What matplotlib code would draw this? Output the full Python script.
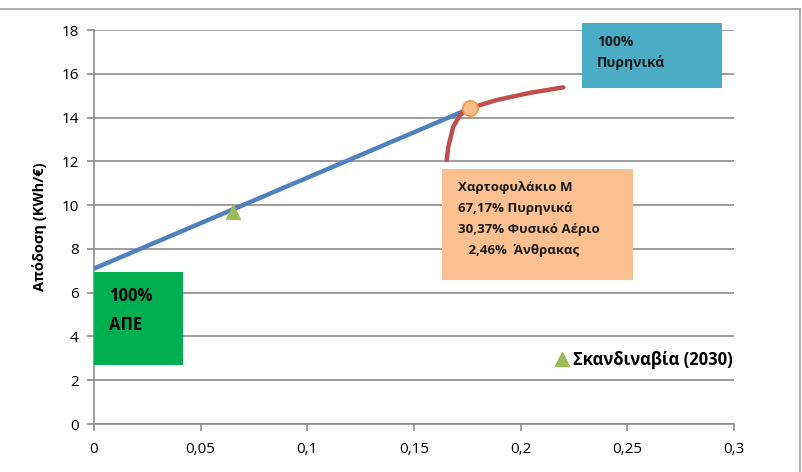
import matplotlib
matplotlib.use("Agg")
import matplotlib.pyplot as plt
from matplotlib.patches import Rectangle
from matplotlib.lines import Line2D
from matplotlib.ticker import FuncFormatter

plt.rcParams['font.family'] = ['Open Sans', 'Noto Sans', 'DejaVu Sans']

# Efficient frontier: straight segment from the 100% renewables point to portfolio M
line_x = [0.0, 0.1763]
line_y = [7.1, 14.42]

# Curved frontier through portfolio M
curve_x = [0.1653, 0.1661, 0.1684, 0.1716, 0.1763, 0.1809, 0.1888, 0.2044, 0.2200]
curve_y = [12.06, 12.67, 13.58, 14.12, 14.42, 14.57, 14.80, 15.13, 15.38]

# Portfolio M
m_x, m_y = 0.1763, 14.42

# Scandinavia (2030)
scand_x, scand_y = 0.065, 9.68

x_ticks = [0, 0.05, 0.1, 0.15, 0.2, 0.25, 0.3]
y_ticks = [0, 2, 4, 6, 8, 10, 12, 14, 16, 18]

W, H = 803, 472
fig = plt.figure(figsize=(W / 100, H / 100), dpi=100)
ax = fig.add_axes([94 / W, 1 - 424 / H, 640 / W, 394 / H])

grid_c = '#8c8c8c'
ax.set_xlim(0, 0.3)
ax.set_ylim(0, 18)
ax.set_yticks(y_ticks)
ax.set_xticks(x_ticks)
ax.yaxis.grid(True, color=grid_c, linewidth=1.2)
ax.set_axisbelow(True)
for s in ['top', 'right']:
    ax.spines[s].set_visible(False)
for s in ['left', 'bottom']:
    ax.spines[s].set_color(grid_c)
    ax.spines[s].set_linewidth(1.2)
ax.tick_params(axis='both', direction='out', length=5, width=1.2, color=grid_c,
               labelsize=11, labelcolor='#000000')
ax.tick_params(axis='x', pad=8)
ax.tick_params(axis='y', pad=6)


def comma_fmt(v, _pos):
    return ('%g' % v).replace('.', ',')


ax.xaxis.set_major_formatter(FuncFormatter(comma_fmt))
ax.yaxis.set_major_formatter(FuncFormatter(comma_fmt))

ax.set_ylabel('Απόδοση (KWh/€)', fontsize=10.5, fontweight='bold', labelpad=10)

# Boxes with annotations
ax.add_patch(Rectangle((0.0, 2.7), 0.0417, 4.24, facecolor='#00b050', edgecolor='none',
                       zorder=3, clip_on=False))
ax.text(0.0072, 6.25, '100%\nΑΠΕ', fontsize=12, fontweight='bold', va='top', ha='left',
        linespacing=1.75, zorder=4)

ax.add_patch(Rectangle((0.2288, 15.35), 0.0656, 2.97, facecolor='#4bacc6', edgecolor='none',
                       zorder=3, clip_on=False))
ax.text(0.2358, 17.75, '100%\nΠυρηνικά', fontsize=10, fontweight='bold', va='top', ha='left',
        linespacing=1.5, zorder=4, color='#1a1a1a', clip_on=False)

ax.add_patch(Rectangle((0.1631, 6.6), 0.0895, 5.07, facecolor='#fac090', edgecolor='none',
                       zorder=3))
ax.text(0.1706, 11.08, 'Χαρτοφυλάκιο Μ\n67,17% Πυρηνικά\n30,37% Φυσικό Αέριο\n   2,46%  Άνθρακας',
        fontsize=9.5, fontweight='bold', va='top', ha='left', linespacing=1.78, zorder=4,
        color='#1a1a1a')

# Frontier lines and points
ax.plot(line_x, line_y, color='#4f81bd', linewidth=3.2, solid_capstyle='butt', zorder=5)
ax.plot(curve_x, curve_y, color='#c0504d', linewidth=3.2, solid_capstyle='round', zorder=5)
ax.plot([m_x], [m_y], marker='o', markersize=11, markerfacecolor='#fbbf8a',
        markeredgecolor='#f79646', markeredgewidth=1.2, linestyle='none', zorder=6)
ax.plot([scand_x], [scand_y], marker='^', markersize=10, color='#9bbb59',
        linestyle='none', zorder=6, label='Σκανδιναβία (2030)')

leg = ax.legend(loc='center left', bbox_to_anchor=((555 - 94) / 640, (424 - 360) / 394),
                frameon=False, fontsize=12, handlelength=0.8, handletextpad=0.3,
                borderaxespad=0, borderpad=0)
for t in leg.get_texts():
    t.set_fontweight('bold')

# Outer chart frame
fig.add_artist(Line2D([0, 800 / W], [1 - 9 / H, 1 - 9 / H], color='#a0a0a0', linewidth=1.2))
fig.add_artist(Line2D([800 / W, 800 / W], [0, 1 - 9 / H], color='#a0a0a0', linewidth=1.2))

fig.savefig('out.png', dpi=100)
